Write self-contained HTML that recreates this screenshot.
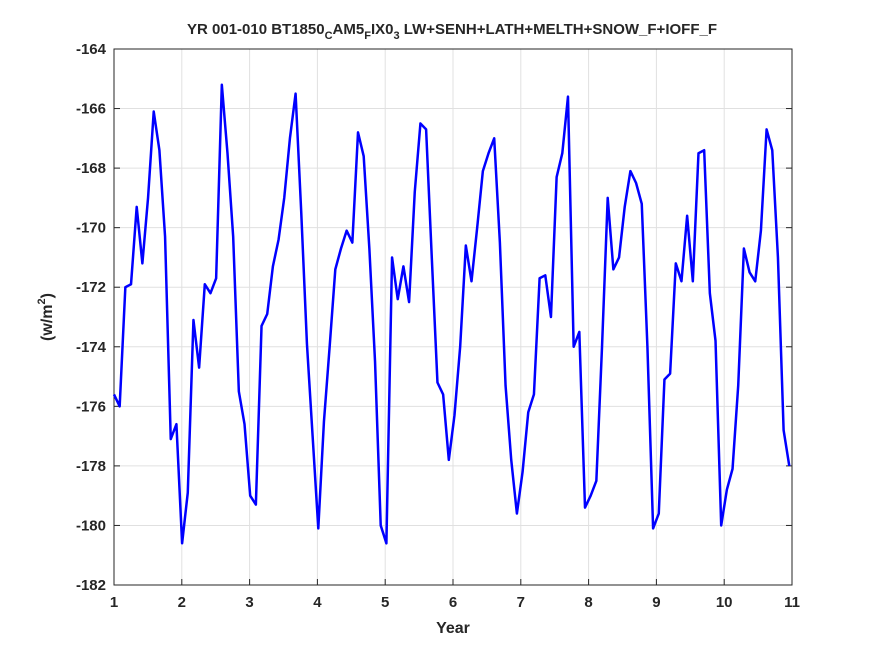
<!DOCTYPE html>
<html><head><meta charset="utf-8"><style>
body{margin:0;background:#fff;}
svg text{font-family:"Liberation Sans",sans-serif;font-weight:bold;fill:#262626;}
</style></head><body>
<svg id="chart" width="875" height="656" xmlns="http://www.w3.org/2000/svg">
<rect width="875" height="656" fill="#fff"/>
<g id="grid"></g>
<g id="axes"></g>
<path id="series" fill="none" stroke="#0000ff" stroke-width="2.5" stroke-linejoin="round"/>
<text x="452" y="34" text-anchor="middle" font-size="15">YR 001-010 BT1850<tspan font-size="11" dy="5">C</tspan><tspan dy="-5">AM5</tspan><tspan font-size="11" dy="5">F</tspan><tspan dy="-5">IX0</tspan><tspan font-size="11" dy="5">3</tspan><tspan dy="-5"> LW+SENH+LATH+MELTH+SNOW_F+IOFF_F</tspan></text>
<text x="453" y="633" text-anchor="middle" font-size="16">Year</text>
<text transform="translate(52,317) rotate(-90)" text-anchor="middle" font-size="16">(w/m<tspan font-size="11" dy="-7">2</tspan><tspan dy="7">)</tspan></text>
</svg>
<script>
const values = [
-175.6,-176.0,-172.0,-171.9,-169.3,-171.2,-169.0,-166.1,-167.4,-170.3,-177.1,-176.6,
-180.6,-178.9,-173.1,-174.7,-171.9,-172.2,-171.7,-165.2,-167.5,-170.3,-175.5,-176.6,
-179.0,-179.3,-173.3,-172.9,-171.3,-170.4,-169.0,-167.0,-165.5,-169.5,-173.9,-177.0,
-180.1,-176.5,-174.0,-171.4,-170.7,-170.1,-170.5,-166.8,-167.6,-170.7,-174.5,-180.0,
-180.6,-171.0,-172.4,-171.3,-172.5,-168.8,-166.5,-166.7,-171.0,-175.2,-175.6,-177.8,
-176.3,-174.0,-170.6,-171.8,-170.0,-168.1,-167.5,-167.0,-170.5,-175.3,-177.8,-179.6,
-178.2,-176.2,-175.6,-171.7,-171.6,-173.0,-168.3,-167.5,-165.6,-174.0,-173.5,-179.4,
-179.0,-178.5,-174.0,-169.0,-171.4,-171.0,-169.3,-168.1,-168.5,-169.2,-174.0,-180.1,
-179.6,-175.1,-174.9,-171.2,-171.8,-169.6,-171.8,-167.5,-167.4,-172.2,-173.8,-180.0,
-178.8,-178.1,-175.3,-170.7,-171.5,-171.8,-170.1,-166.7,-167.4,-171.0,-176.8,-178.0
];
const xStart = 1;
const xEnd = 10.96;
const xTicks = [1,2,3,4,5,6,7,8,9,10,11];
const yTicks = [-182,-180,-178,-176,-174,-172,-170,-168,-166,-164];
const X0=114,X1=792,Y0=585,Y1=49;
const xs = v => X0+(v-1)/10*(X1-X0);
const ys = v => Y0-(v+182)/18*(Y0-Y1);
const NS="http://www.w3.org/2000/svg";
const grid=document.getElementById('grid'), axes=document.getElementById('axes');
function mk(tag,attrs,parent){const e=document.createElementNS(NS,tag);for(const k in attrs)e.setAttribute(k,attrs[k]);parent.appendChild(e);return e;}
xTicks.forEach(t=>{
  const l=mk('line',{x1:xs(t),x2:xs(t),y1:Y1,y2:Y0,stroke:'#e0e0e0','stroke-width':1},grid);
  
  
  const tk=mk('line',{x1:xs(t),x2:xs(t),y1:Y0,y2:Y0-6,stroke:'#262626'},axes);
  
  
  const tx=mk('text',{x:xs(t),y:Y0+22,'text-anchor':'middle','font-size':15},axes);
  tx.textContent=t;
  
  
});
yTicks.forEach(t=>{
  const l=mk('line',{x1:X0,x2:X1,y1:ys(t),y2:ys(t),stroke:'#e0e0e0','stroke-width':1},grid);
  
  
  const tk=mk('line',{x1:X0,x2:X0+6,y1:ys(t),y2:ys(t),stroke:'#262626'},axes);
  
  
  const tk2=mk('line',{x1:X1,x2:X1-6,y1:ys(t),y2:ys(t),stroke:'#262626'},axes);
  
  
  const tx=mk('text',{x:X0-8,y:ys(t)+5,'text-anchor':'end','font-size':15},axes);
  tx.textContent=t;
  
  
});
const frame=mk('rect',{x:X0,y:Y1,width:X1-X0,height:Y0-Y1,fill:'none',stroke:'#262626','stroke-width':1},axes);


let d='';
const n=values.length;
values.forEach((v,i)=>{const t=xStart+i*(xEnd-xStart)/(n-1);d+=(i?'L':'M')+xs(t).toFixed(2)+','+ys(v).toFixed(2);});
document.getElementById('series').setAttribute('d',d);
</script>
</body></html>
